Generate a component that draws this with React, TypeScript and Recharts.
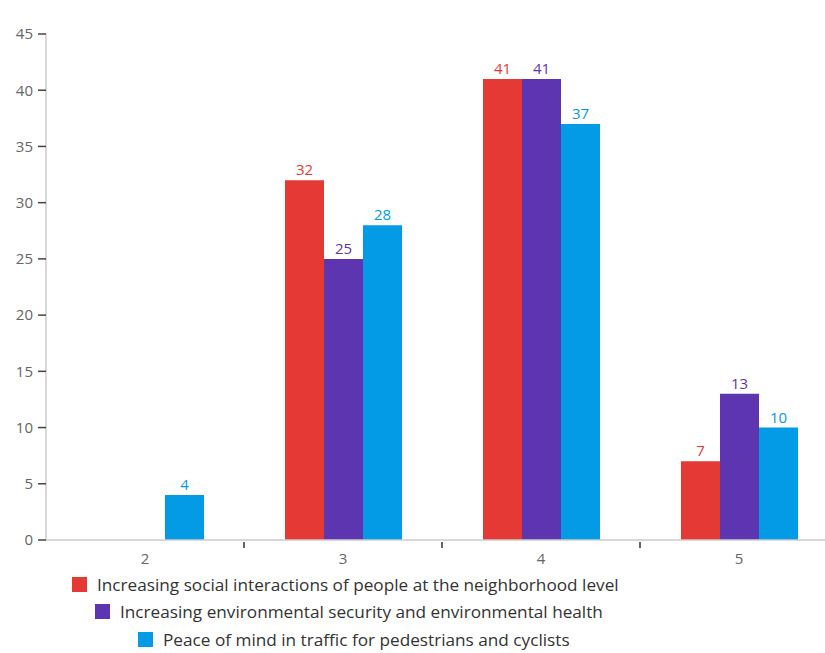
import React from 'react';
import { BarChart, Bar, XAxis, YAxis, LabelList } from 'recharts';

const categories = ['2', '3', '4', '5'];
const socialInteractions = [null, 32, 41, 7];
const environmentalSecurity = [null, 25, 41, 13];
const trafficPeace = [4, 28, 37, 10];
const yTicks = [0, 5, 10, 15, 20, 25, 30, 35, 40, 45];

const seriesNames = [
  'Increasing social interactions of people at the neighborhood level',
  'Increasing environmental security and environmental health',
  'Peace of mind in traffic for pedestrians and cyclists',
];
const colors = ['#e53935', '#5e35b1', '#039be5'];

const data = categories.map((cat, i) => ({
  cat,
  social: socialInteractions[i],
  security: environmentalSecurity[i],
  peace: trafficPeace[i],
}));

const FONT = '"Open Sans", "Noto Sans", sans-serif';
const CHART_W = 845;
const CHART_H = 570;
const MARGIN = { top: 34, right: 7, bottom: 0, left: 0 };
const Y_W = 46;
const band = (CHART_W - MARGIN.left - MARGIN.right - Y_W) / categories.length;

// category label plus a divider tick at the right edge of each band
const XTick = (props: any) => {
  const { x, y, index, payload } = props;
  const last = index === categories.length - 1;
  return (
    <g>
      <text x={x} y={y + 16} textAnchor="middle" fill="#666" fontSize={15} fontFamily={FONT}>
        {payload.value}
      </text>
      {!last && (
        <line x1={x + band / 2} x2={x + band / 2} y1={y - 6} y2={y} stroke="#333" strokeWidth={1.5} />
      )}
    </g>
  );
};

const legendOffsets = [72, 95, 138];
const legendTops = [577, 604, 632];

export default function App() {
  return (
    <div style={{ position: 'absolute', left: 0, top: 0, width: 825, height: 653, overflow: 'hidden', background: '#fff' }}>
      <BarChart width={CHART_W} height={CHART_H} data={data} margin={MARGIN} barGap={0}>
        <XAxis
          dataKey="cat"
          height={30}
          axisLine={{ stroke: '#ccc', strokeWidth: 1.5 }}
          tickLine={false}
          tick={<XTick />}
          interval={0}
        />
        <YAxis
          width={Y_W}
          domain={[0, 45]}
          ticks={yTicks}
          axisLine={{ stroke: '#ccc', strokeWidth: 1.5 }}
          tickLine={{ stroke: '#444', strokeWidth: 1.5 }}
          tickSize={8}
          tickMargin={5}
          tick={{ fill: '#666', fontSize: 15, fontFamily: FONT }}
        />
        {(['social', 'security', 'peace'] as const).map((key, i) => (
          <Bar key={key} dataKey={key} name={seriesNames[i]} fill={colors[i]} barSize={39} isAnimationActive={false}>
            <LabelList dataKey={key} position="top" offset={5} fill={colors[i]} fontSize={15} fontFamily={FONT} />
          </Bar>
        ))}
      </BarChart>
      {seriesNames.map((name, i) => (
        <div
          key={name}
          style={{
            position: 'absolute',
            left: legendOffsets[i],
            top: legendTops[i] - 4,
            display: 'flex',
            alignItems: 'center',
            fontFamily: FONT,
            fontSize: 17.2,
            color: '#333',
            whiteSpace: 'nowrap',
          }}
        >
          <span style={{ display: 'inline-block', width: 15, height: 15, background: colors[i], marginRight: 10 }} />
          {name}
        </div>
      ))}
    </div>
  );
}
